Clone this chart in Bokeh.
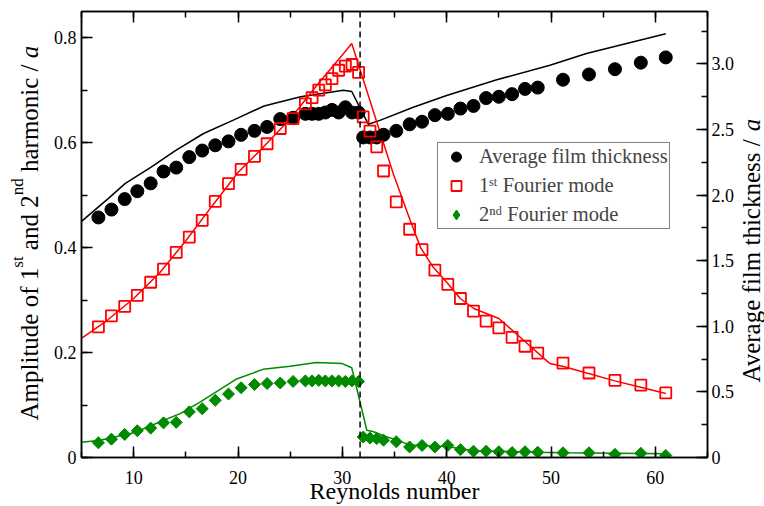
import numpy as np
from bokeh.plotting import figure
from bokeh.layouts import row
from bokeh.models import (Range1d, LinearAxis, SingleIntervalTicker, Span, Label,
                          Legend, LegendItem, PrintfTickFormatter)
from bokeh.embed import file_html
from bokeh.resources import INLINE

# ---------------- data ----------------
reynolds = [6.62, 7.87, 9.14, 10.35, 11.63, 12.86, 14.08, 15.33, 16.57, 17.82,
            19.09, 20.3, 21.58, 22.79, 24.05, 25.28, 26.46, 27.10, 27.74, 28.37,
            29.01, 29.65, 30.29, 30.93, 31.56, 32.0, 32.65, 33.3, 33.95, 35.17,
            36.45, 37.64, 38.87, 40.11, 41.32, 42.57, 43.78, 45.0, 46.27, 47.51,
            48.73, 51.15, 53.64, 56.13, 58.61, 61.0]
# average film thickness / a  (right axis)
film_thickness = [1.83, 1.89, 1.97, 2.03, 2.09, 2.18, 2.21, 2.29, 2.34, 2.38,
                  2.41, 2.46, 2.49, 2.52, 2.58, 2.59, 2.62, 2.62, 2.62, 2.63,
                  2.65, 2.63, 2.67, 2.63, 2.63, 2.44, 2.44, 2.44, 2.46, 2.49,
                  2.54, 2.56, 2.61, 2.62, 2.66, 2.68, 2.74, 2.75, 2.77, 2.81,
                  2.82, 2.88, 2.92, 2.96, 3.01, 3.05]
# amplitude of 1st Fourier mode / a (left axis)
mode1 = [0.249, 0.270, 0.288, 0.309, 0.334, 0.359, 0.391, 0.420, 0.452, 0.488,
         0.522, 0.549, 0.574, 0.598, 0.627, 0.646, 0.674, 0.686, 0.700, 0.710,
         0.722, 0.738, 0.746, 0.749, 0.734, 0.649, 0.622, 0.592, 0.546, 0.487,
         0.435, 0.396, 0.357, 0.330, 0.303, 0.279, 0.260, 0.247, 0.229, 0.212,
         0.199, 0.180, 0.161, 0.147, 0.138, 0.123]
# amplitude of 2nd Fourier mode / a (left axis)
mode2 = [0.028, 0.035, 0.044, 0.051, 0.056, 0.066, 0.067, 0.087, 0.093, 0.109,
         0.121, 0.133, 0.139, 0.141, 0.142, 0.145, 0.146, 0.146, 0.147, 0.146,
         0.146, 0.146, 0.145, 0.146, 0.145, 0.039, 0.037, 0.036, 0.033, 0.030,
         0.020, 0.023, 0.020, 0.023, 0.015, 0.012, 0.012, 0.011, 0.0095, 0.011,
         0.010, 0.009, 0.009, 0.006, 0.008, 0.004]

# theory curves
theory_film_re = [5, 7.5, 9.2, 11.6, 14.0, 16.7, 19.5, 22.5, 26.0, 30.1, 30.9,
                  32.5, 33.6, 36.8, 40, 44.8, 49.9, 53.4, 61]
theory_film = [1.80, 1.97, 2.09, 2.21, 2.34, 2.47, 2.57, 2.68, 2.75, 2.80, 2.79,
               2.54, 2.57, 2.67, 2.76, 2.88, 2.99, 3.08, 3.23]
theory_mode1_re = [5, 7.5, 10, 12.5, 15, 17.5, 20, 22.5, 25, 27.5, 30, 30.9,
                   34.9, 36.5, 37.5, 38.7, 40, 41.3, 42.6, 45, 47.4, 49.9, 51.1,
                   53.6, 56.1, 58.6, 61]
theory_mode1 = [0.227, 0.262, 0.303, 0.352, 0.413, 0.479, 0.543, 0.593, 0.645,
                0.708, 0.767, 0.789, 0.540, 0.452, 0.400, 0.363, 0.334, 0.303,
                0.284, 0.265, 0.223, 0.179, 0.174, 0.160, 0.146, 0.134, 0.122]
theory_mode2_re = [5, 6.8, 10, 12.9, 14.5, 16.4, 19.8, 22.4, 25, 27.5, 30, 30.9,
                   32.35, 33.0, 34.0, 35.1, 36.45, 40, 42.6, 48.7, 51.1, 61]
theory_mode2 = [0.029, 0.033, 0.047, 0.071, 0.084, 0.106, 0.149, 0.168, 0.174,
                0.181, 0.179, 0.171, 0.052, 0.049, 0.041, 0.034, 0.024, 0.021,
                0.013, 0.010, 0.009, 0.007]
transition_re = 31.7

x_ticks_interval = 10
left_ticks_interval = 0.2
right_ticks_interval = 0.5

x_title = "Reynolds number"
legend_labels = ["Average film thickness", "1ˢᵗ Fourier mode", "2ⁿᵈ Fourier mode"]
# axis titles as (text, kind) pieces: normal / sup / space / italic
left_title = [("Amplitude of 1", "n"), ("st", "sup"), (" ", "space"), ("and 2", "n"),
              ("nd", "sup"), (" ", "space"), ("harmonic /", "n"), (" ", "space"),
              ("a", "italic")]
right_title = [("Average film thickness /", "n"), (" ", "space"), ("a", "italic")]

# ---------------- layout constants ----------------
FONT = "Liberation Serif"
GREEN = "#008a00"
TOTAL_W, TOTAL_H = 764, 506
LEFT_W, RIGHT_W = 47, 30          # side strips holding the rotated titles
FRAME_W, FRAME_H = 626, 446
BORDER_L, BORDER_R, BORDER_T = 34, 27, 11
BORDER_B = TOTAL_H - BORDER_T - FRAME_H
FRAME_BOTTOM = BORDER_T + FRAME_H  # strips' frames line up with the main frame

# ---------------- main plot ----------------
p = figure(frame_width=FRAME_W, frame_height=FRAME_H,
           x_range=Range1d(5, 65), y_range=Range1d(0, 0.85),
           output_backend="svg", toolbar_location=None,
           min_border_left=BORDER_L, min_border_right=BORDER_R,
           min_border_top=BORDER_T, min_border_bottom=BORDER_B)
p.extra_y_ranges = {"film": Range1d(0, 3.4)}
p.grid.visible = False
p.background_fill_color = "white"
p.border_fill_color = "white"
p.outline_line_color = "black"
p.outline_line_width = 1.5


def style_axis(ax, size="18px", standoff=6):
    ax.axis_line_color = "black"
    ax.axis_line_width = 1.5
    ax.major_tick_in = 11
    ax.major_tick_out = 0
    ax.minor_tick_in = 6
    ax.minor_tick_out = 0
    ax.major_tick_line_color = "black"
    ax.minor_tick_line_color = "black"
    ax.major_tick_line_width = 1.5
    ax.minor_tick_line_width = 1.5
    ax.major_label_text_font = FONT
    ax.major_label_text_font_size = size
    ax.major_label_text_color = "black"
    ax.major_label_standoff = standoff
    ax.axis_label_text_font = FONT
    ax.axis_label_text_font_style = "normal"
    ax.axis_label_text_color = "black"


xax = p.xaxis[0]
xax.ticker = SingleIntervalTicker(interval=x_ticks_interval, num_minor_ticks=2)
style_axis(xax, standoff=13)
xax.axis_label = x_title
xax.axis_label_text_font_size = "24px"
xax.axis_label_standoff = -9

yax = p.yaxis[0]
yax.ticker = SingleIntervalTicker(interval=left_ticks_interval, num_minor_ticks=2)
yax.formatter = PrintfTickFormatter(format="%.1f")
yax.major_label_overrides = {0: "0"}
style_axis(yax, standoff=5)
yax.axis_label = None

top = LinearAxis(ticker=SingleIntervalTicker(interval=x_ticks_interval, num_minor_ticks=2))
style_axis(top, size="0px", standoff=0)
top.major_label_overrides = {v: "" for v in range(10, 70, 10)}
top.axis_label = None
p.add_layout(top, "above")

rax = LinearAxis(y_range_name="film",
                 ticker=SingleIntervalTicker(interval=right_ticks_interval, num_minor_ticks=2))
rax.formatter = PrintfTickFormatter(format="%.1f")
rax.major_label_overrides = {0: "0"}
style_axis(rax, standoff=4)
rax.axis_label = None
p.add_layout(rax, "right")

# ---------------- glyphs ----------------
p.line(theory_film_re, theory_film, y_range_name="film", line_color="black", line_width=1.5)
p.line(theory_mode1_re, theory_mode1, line_color="red", line_width=1.5)
p.line(theory_mode2_re, theory_mode2, line_color=GREEN, line_width=1.5)

r_film = p.scatter(reynolds, film_thickness, y_range_name="film", marker="circle",
                   size=13, line_color="black", fill_color="black", fill_alpha=1)
r_m1 = p.scatter(reynolds, mode1, marker="square", size=11, line_color="red",
                 fill_color=None, line_width=1.8)
r_m2 = p.scatter(reynolds, mode2, marker="square", angle=np.pi / 4, size=8.5,
                 line_color=GREEN, fill_color=GREEN, fill_alpha=1)
# hidden twin used only as the legend swatch (legend glyphs ignore marker angle)
r_m2_key = p.scatter(reynolds, mode2, marker="diamond", line_color=GREEN,
                     fill_color=GREEN, fill_alpha=1, visible=False)

p.add_layout(Span(location=transition_re, dimension="height", line_color="black",
                  line_dash="6 4", line_width=1.5))

legend = Legend(items=[LegendItem(label=legend_labels[0], renderers=[r_film]),
                       LegendItem(label=legend_labels[1], renderers=[r_m1]),
                       LegendItem(label=legend_labels[2], renderers=[r_m2_key])],
                location=(356, 228), margin=0, padding=1, spacing=4,
                glyph_width=34, glyph_height=25, label_height=25, label_standoff=6,
                label_text_font=FONT, label_text_font_size="20.5px",
                border_line_color="black", border_line_width=1.5,
                background_fill_color="white", background_fill_alpha=1,
                inactive_fill_alpha=0)
p.add_layout(legend, "center")


# ---------------- side strips with the rotated (rich-text) titles ----------------
def strip(width):
    f = figure(width=width, height=TOTAL_H, output_backend="svg", toolbar_location=None,
               x_axis_location=None, y_axis_location=None, min_border=0,
               x_range=Range1d(0, 1), y_range=Range1d(0, 1))
    f.outline_line_color = None
    f.grid.visible = False
    f.background_fill_color = "white"
    f.border_fill_color = "white"
    return f


WID = {" ": 250, "A": 722, "m": 778, "p": 500, "l": 278, "i": 278, "t": 278,
       "u": 500, "d": 500, "e": 444, "o": 500, "f": 333, "1": 500, "2": 500, "s": 389,
       "a": 444, "n": 500, "h": 500, "r": 333, "c": 444, "/": 278, "v": 500, "g": 500,
       "k": 500}


def tw(s, size):
    return sum(WID[c] for c in s) * size / 1000.0


def rotated_title(fig, parts, page_x0, page_baseline_x, page_y_start, size, sup_size,
                  sup_raise):
    # rotated text lands about 0.4 em past the requested baseline: compensate
    sx = page_baseline_x - page_x0 - 0.4 * size
    cur = FRAME_BOTTOM - page_y_start
    for text, kind in parts:
        if kind == "space":
            cur += tw(" ", size)
            continue
        if kind == "sup":
            x, fs, style, adv = sx - sup_raise, sup_size, "normal", tw(text, sup_size)
        elif kind == "italic":
            x, fs, style, adv = sx, size, "italic", 0.5 * size
        else:
            x, fs, style, adv = sx, size, "normal", tw(text, size)
        fig.add_layout(Label(x=x, y=cur, x_units="screen", y_units="screen", text=text,
                             angle=np.pi / 2, text_font=FONT, text_font_size=f"{fs}px",
                             text_font_style=style, text_color="black",
                             text_align="left", text_baseline="alphabetic"))
        cur += adv


p_left = strip(LEFT_W)
rotated_title(p_left, left_title, page_x0=0, page_baseline_x=38.5, page_y_start=420,
              size=25, sup_size=17, sup_raise=12)

p_right = strip(RIGHT_W)
rotated_title(p_right, right_title, page_x0=TOTAL_W - RIGHT_W, page_baseline_x=757.5,
              page_y_start=382, size=25, sup_size=17, sup_raise=12)

layout = row(p_left, p, p_right, spacing=0)

open("out.html", "w").write(file_html(layout, INLINE))
